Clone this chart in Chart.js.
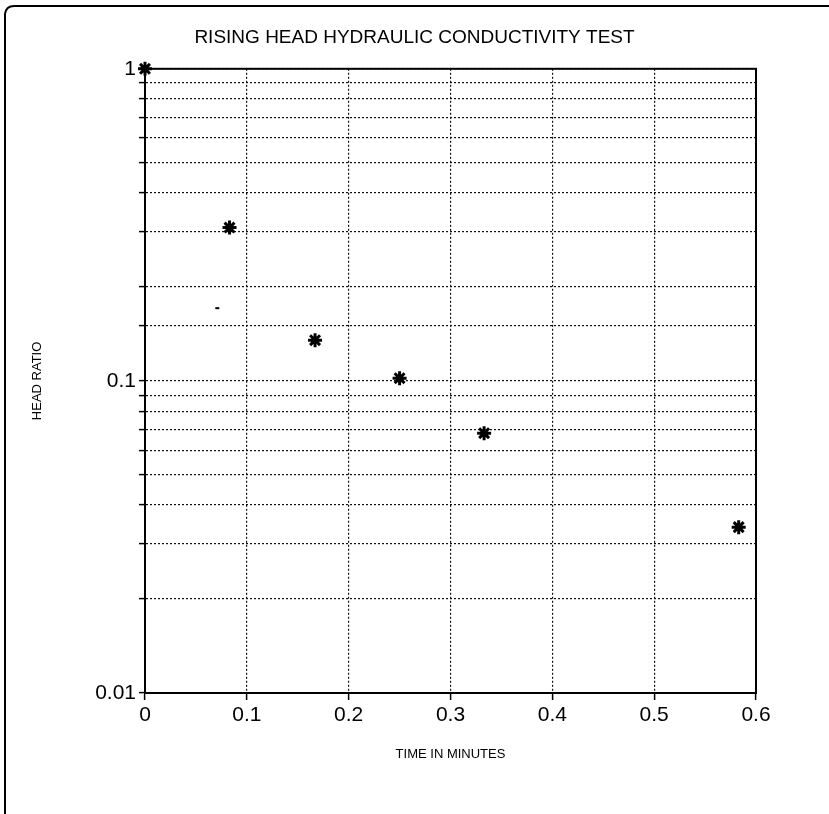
<!DOCTYPE html>
<html>
<head>
<meta charset="utf-8">
<script src="https://cdn.jsdelivr.net/npm/chart.js@4.4.1/dist/chart.umd.min.js"></script>
<style>
  html, body { margin: 0; padding: 0; background: #ffffff; }
  #wrap { width: 829px; height: 814px; position: relative; }
</style>
</head>
<body>
<div id="wrap"><canvas id="c" width="829" height="814"></canvas></div>
<script>
// ---- data ----
const timeMinutes = [0, 0.083, 0.167, 0.25, 0.333, 0.583];
const headRatio   = [1, 0.31, 0.135, 0.102, 0.068, 0.034];
const strayTime   = [0.071];
const strayRatio  = [0.171];
const xTickValues = [0, 0.1, 0.2, 0.3, 0.4, 0.5, 0.6];
const yLabelValues = [1, 0.1, 0.01];
const chartTitle = 'RISING HEAD HYDRAULIC CONDUCTIVITY TEST';
const xTitle = 'TIME IN MINUTES';
const yTitle = 'HEAD RATIO';

const FONT = "'Liberation Sans', Arial, sans-serif";

const framePlugin = {
  id: 'frame',
  afterDraw(chart) {
    const { ctx, chartArea: a } = chart;
    ctx.save();
    ctx.strokeStyle = '#000';
    ctx.lineWidth = 2;
    ctx.setLineDash([]);
    ctx.strokeRect(a.left, a.top, a.right - a.left, a.bottom - a.top);
    // outer page frame
    ctx.beginPath();
    ctx.moveTo(5, 814);
    ctx.lineTo(5, 14);
    ctx.quadraticCurveTo(6, 6, 14, 6);
    ctx.lineTo(829, 6);
    ctx.stroke();
    ctx.restore();
  }
};

const gridOpts = (tickLen) => ({
  color: '#111',
  lineWidth: 1.2,
  drawTicks: true,
  tickLength: tickLen,
  tickColor: '#000',
  tickBorderDash: [],
  tickWidth: 1.5
});

new Chart(document.getElementById('c'), {
  type: 'scatter',
  data: {
    datasets: [
      {
        data: timeMinutes.map((t, i) => ({ x: t, y: headRatio[i] })),
        pointStyle: 'star',
        radius: 7,
        borderWidth: 3,
        borderColor: '#000',
        backgroundColor: '#000',
        clip: false
      },
      {
        data: strayTime.map((t, i) => ({ x: t, y: strayRatio[i] })),
        pointStyle: 'line',
        radius: 2,
        borderWidth: 2,
        borderColor: '#000',
        clip: false
      }
    ]
  },
  options: {
    responsive: false,
    animation: false,
    events: [],
    layout: { padding: 0 },
    plugins: {
      legend: { display: false },
      tooltip: { enabled: false },
      title: {
        display: true,
        text: chartTitle,
        color: '#000',
        font: { family: FONT, size: 19, weight: 'normal' },
        padding: { top: 26, bottom: 20 }
      }
    },
    scales: {
      x: {
        type: 'linear',
        min: 0,
        max: 0.6,
        afterBuildTicks(scale) { scale.ticks = xTickValues.map(v => ({ value: v })); },
        afterFit(scale) { scale.height = 121; },
        ticks: {
          color: '#000',
          font: { family: FONT, size: 21 },
          padding: 3,
          callback: (v) => String(Number(Number(v).toFixed(1)))
        },
        grid: gridOpts(7),
        border: { display: true, color: '#000', width: 2, dash: [2, 2] },
        title: {
          display: true,
          text: xTitle,
          color: '#000',
          font: { family: FONT, size: 13 },
          padding: { top: 4, bottom: 52 }
        }
      },
      y: {
        type: 'logarithmic',
        min: 0.01,
        max: 1,
        afterFit(scale) { scale.width = 145; },
        ticks: {
          color: '#000',
          autoSkip: false,
          font: { family: FONT, size: 21 },
          padding: 3,
          callback: (v) => {
            const hit = yLabelValues.find(y => Math.abs(v - y) / y < 1e-6);
            return hit !== undefined ? String(hit) : '';
          }
        },
        grid: gridOpts(6),
        border: { display: true, color: '#000', width: 2, dash: [2, 2] },
        title: {
          display: true,
          text: yTitle,
          color: '#000',
          font: { family: FONT, size: 13 },
          padding: { top: 30, bottom: 4 }
        }
      },
      yRight: {
        type: 'linear',
        position: 'right',
        min: 0,
        max: 1,
        afterFit(scale) { scale.width = 73; },
        ticks: { display: false },
        grid: { display: false, drawOnChartArea: false, drawTicks: false },
        border: { display: false }
      }
    }
  },
  plugins: [framePlugin]
});
</script>
</body>
</html>
